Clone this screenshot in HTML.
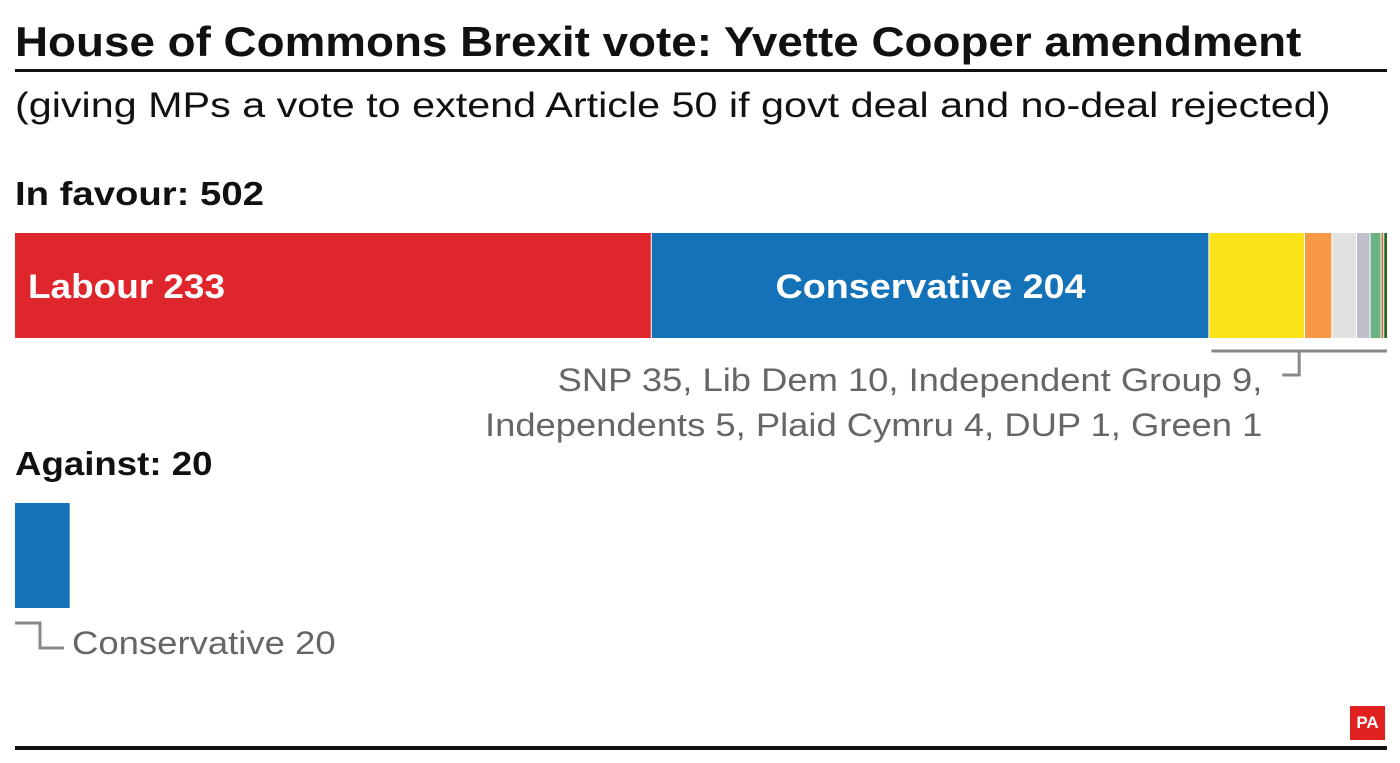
<!DOCTYPE html>
<html><head><meta charset="utf-8"><style>
body{margin:0;width:1400px;height:763px;background:#fff;font-family:"Liberation Sans",sans-serif;position:relative;overflow:hidden}
.t{position:absolute;white-space:nowrap;transform-origin:0 0}
</style></head><body>
<div class="t" style="left:15px;top:18px;font-size:42px;font-weight:bold;color:#111;transform:scaleX(1.09)">House of Commons Brexit vote: Yvette Cooper amendment</div>
<div style="position:absolute;left:15px;top:69px;width:1372px;height:3px;background:#111"></div>
<div class="t" style="left:15px;top:86px;font-size:35px;color:#111;transform:scaleX(1.18)">(giving MPs a vote to extend Article 50 if govt deal and no-deal rejected)</div>
<div class="t" style="left:15px;top:175px;font-size:33px;font-weight:bold;color:#111;transform:scaleX(1.16)">In favour: 502</div>
<div class="t" style="left:15px;top:445px;font-size:33px;font-weight:bold;color:#111;transform:scaleX(1.11)">Against: 20</div>
<svg id="c" width="1400" height="763" style="position:absolute;left:0;top:0"></svg>
<div class="t" style="left:485px;top:358px;font-size:32px;color:#666;text-align:right;line-height:45px;transform:scaleX(1.136)">SNP 35, Lib Dem 10, Independent Group 9,<br>Independents 5, Plaid Cymru 4, DUP 1, Green 1</div>
<div class="t" style="left:72px;top:625px;font-size:32px;color:#666;transform:scaleX(1.14)">Conservative 20</div>
<div style="position:absolute;left:1350px;top:706px;width:35px;height:34px;background:#e1211f;color:#fff;font-weight:bold;font-size:17px;text-align:center;line-height:34px">PA</div>
<div style="position:absolute;left:15px;top:746px;width:1372px;height:4px;background:#111"></div>
<script>
const parties=["Labour","Conservative","SNP","Lib Dem","Independent Group","Independents","Plaid Cymru","DUP","Green"];
const favourSeats=[233,204,35,10,9,5,4,1,1];
const favourColors=["#e0262d","#1473b8","#fbe51a","#f69844","#e2e2e2","#c0bfcc","#6ab182","#c86a2a","#1e6b2e"];
const againstParties=["Conservative"];
const againstSeats=[20];
const againstColors=["#1473b8"];
const NS="http://www.w3.org/2000/svg";
const svg=document.getElementById('c');
const x0=15,total=favourSeats.reduce((a,b)=>a+b,0),scale=1372/total;
const xs=v=>x0+v*scale;
let acc=0;
favourSeats.forEach((v,i)=>{
 const r=document.createElementNS(NS,'rect');
 r.setAttribute('x',xs(acc));r.setAttribute('y',233);
 r.setAttribute('width',Math.max(v*scale-(i<favourSeats.length-1?1:0),0.8));r.setAttribute('height',105);
 r.setAttribute('fill',favourColors[i]);
 
 
 svg.appendChild(r);
 if(i<2){
  const t=document.createElementNS(NS,'text');
  t.textContent=parties[i]+' '+v;
  t.setAttribute('y',298);t.setAttribute('fill','#fff');
  t.setAttribute('font-size','34');t.setAttribute('font-weight','bold');
  t.setAttribute('font-family','Liberation Sans, sans-serif');
  t.setAttribute('textLength',i===0?197:310);
  t.setAttribute('lengthAdjust','spacingAndGlyphs');
  if(i===0){t.setAttribute('x',xs(acc)+13);}else{t.setAttribute('x',xs(acc+v/2));t.setAttribute('text-anchor','middle');}
  
  
  svg.appendChild(t);
 }
 acc+=v;
});
acc=0;
againstSeats.forEach((v,i)=>{
 const r=document.createElementNS(NS,'rect');
 r.setAttribute('x',xs(acc));r.setAttribute('y',503);
 r.setAttribute('width',v*scale);r.setAttribute('height',105);
 r.setAttribute('fill',againstColors[i]);
 
 
 svg.appendChild(r);acc+=v;
});
const start=xs(favourSeats[0]+favourSeats[1])+2,end=xs(total);
const b=document.createElementNS(NS,'path');
const mid=(start+end)/2;
b.setAttribute('d',`M${start} 351H${end}M${mid} 351V375H${mid-17}`);
b.setAttribute('stroke','#888');b.setAttribute('stroke-width','3');b.setAttribute('fill','none');


svg.appendChild(b);
const b2=document.createElementNS(NS,'path');
b2.setAttribute('d',`M15 623H40V648H64`);
b2.setAttribute('stroke','#888');b2.setAttribute('stroke-width','3');b2.setAttribute('fill','none');


svg.appendChild(b2);
</script>
</body></html>
